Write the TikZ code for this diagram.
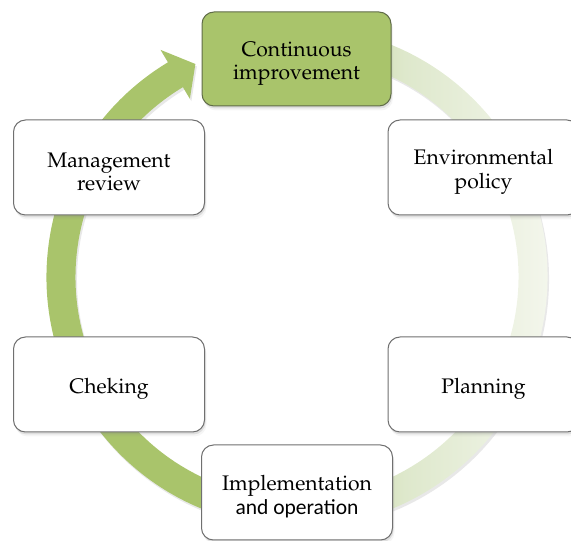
\documentclass[tikz,border=0pt]{standalone}
\usepackage{fontspec}
\usepackage[T1]{fontenc}
\newfontfamily\carlfont{Carlito}
\usetikzlibrary{calc,shadows}
\definecolor{ringg}{RGB}{169,196,107}
\definecolor{ringmid}{RGB}{222,232,204}
\definecolor{ringlight}{RGB}{246,248,240}
\definecolor{boxborder}{RGB}{112,112,112}
\definecolor{topborder}{RGB}{96,108,72}
\newcommand\palfont{\fontencoding{T1}\fontfamily{ppl}\fontsize{21.1}{23.5}\selectfont}
\newcommand\topstrut{\rule{0pt}{23.5pt}}
\pgfdeclarehorizontalshading{ringshade}{100bp}{color(0bp)=(ringg); color(42bp)=(ringg); color(60bp)=(ringmid); color(75bp)=(ringlight); color(100bp)=(ringlight)}
\tikzset{
  softshadow/.style={drop shadow={shadow xshift=1pt, shadow yshift=-2.5pt, opacity=0.2},
                     drop shadow={shadow xshift=2pt, shadow yshift=-4.5pt, opacity=0.08}},
  stagebox/.style={draw=boxborder, line width=1pt, rounded corners=12pt, fill=white,
                   minimum width=191pt, minimum height=95pt, align=center, font=\palfont,
                   text=black, inner sep=2pt, softshadow},
  topbox/.style={stagebox, fill=ringg, draw=topborder, minimum width=189pt, minimum height=94pt}
}
\begin{document}
\begin{tikzpicture}[x=1pt,y=1pt]
\useasboundingbox (0,0) rectangle (571,541);
\coordinate (C) at (297,264);
% cycle arrow
\shade[shading=ringshade, drop shadow={shadow xshift=1.5pt, shadow yshift=-2.5pt, opacity=0.18}]
  ($(C)+(80:250.5pt)$) arc[start angle=80, end angle=-239, radius=250.5pt]
  -- ($(C)+(-239:265pt)$) -- ($(C)+(-244.5:236pt)$) -- ($(C)+(-239:208pt)$)
  -- ($(C)+(-239:221.5pt)$) arc[start angle=-239, end angle=80, radius=221.5pt] -- cycle;
% stages
\node[topbox]   (ci)   at (296.5,482)  {\topstrut Continuous\\improvement};
\node[stagebox] (env)  at (483.5,373.5) {\topstrut Environmental\\policy};
\node[stagebox] (plan) at (483.5,156.5) {\topstrut Planning};
\node[stagebox] (impl) at (297,48.5)   {\topstrut Implementation\\{\fontencoding{TU}\carlfont\fontsize{21.5}{23}\selectfont and operation}};
\node[stagebox] (chk)  at (109,156.5)  {\topstrut Cheking};
\node[stagebox] (mgmt) at (109,373.5)  {\topstrut Management\\review};
\end{tikzpicture}
\end{document}
